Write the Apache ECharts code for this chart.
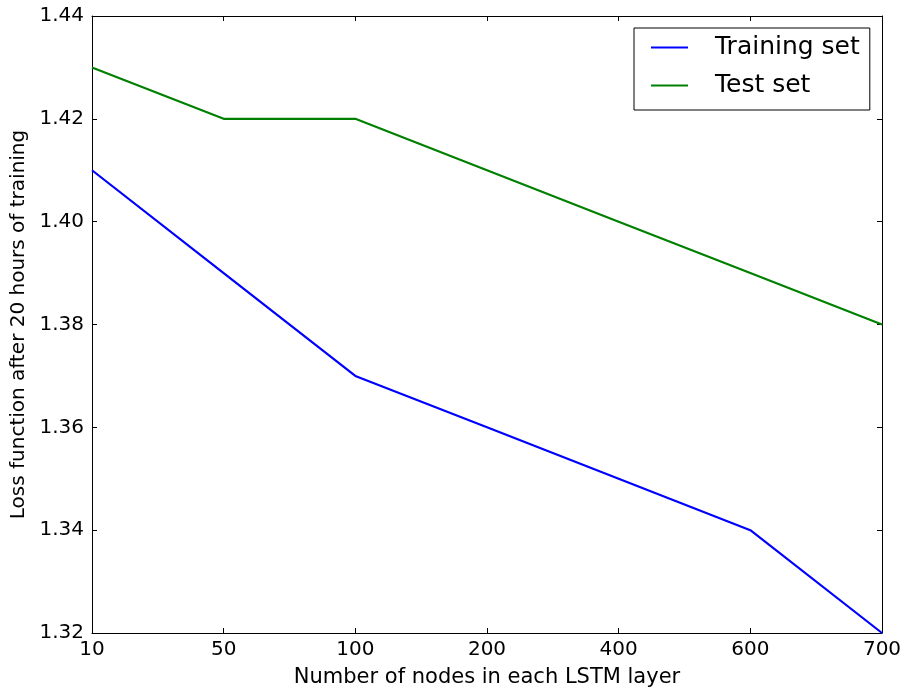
<!DOCTYPE html>
<html>
<head>
<meta charset="utf-8">
<script src="https://cdn.jsdelivr.net/npm/echarts@6/dist/echarts.min.js"></script>
<style>html,body{margin:0;padding:0;background:#fff;}#c{width:906px;height:693px;}</style>
</head>
<body>
<div id="c"></div>
<script>
const categories = ['10', '50', '100', '200', '400', '600', '700'];
const trainingSet = [1.41, 1.39, 1.37, 1.36, 1.35, 1.34, 1.32];
const testSet = [1.43, 1.42, 1.42, 1.41, 1.40, 1.39, 1.38];
const yTicks = { min: 1.32, max: 1.44, interval: 0.02 };

const font = 'DejaVu Sans';
const chart = echarts.init(document.getElementById('c'), null, { renderer: 'canvas' });
const axisLine = { show: true, onZero: false, lineStyle: { color: '#000', width: 1 } };
const tick = { show: true, inside: true, length: 5, lineStyle: { color: '#000', width: 1 } };
chart.setOption({
  animation: false,
  backgroundColor: '#fff',
  grid: { left: 92, right: 24, top: 16, bottom: 60, containLabel: false },
  legend: {
    orient: 'vertical',
    left: 634, top: 28,
    padding: [7, 10, 12, 17],
    itemGap: 13,
    icon: 'rect',
    itemWidth: 37, itemHeight: 2,
    borderColor: '#000', borderWidth: 1, borderRadius: 0,
    backgroundColor: '#fff',
    textStyle: { fontFamily: font, fontSize: 25, color: '#000', padding: [0, 0, 0, 22] },
    data: ['Training set', 'Test set']
  },
  xAxis: [{
    type: 'category', data: categories, boundaryGap: false,
    name: 'Number of nodes in each LSTM layer', nameLocation: 'middle', nameGap: 34,
    nameTextStyle: { fontFamily: font, fontSize: 21, color: '#000' },
    axisLine, axisTick: Object.assign({ alignWithLabel: true }, tick),
    axisLabel: { fontFamily: font, fontSize: 20, color: '#000', margin: 7, interval: 0 },
    splitLine: { show: false }
  }, {
    type: 'category', data: categories, boundaryGap: false, position: 'top',
    axisLine, axisTick: tick, axisLabel: { show: false }, splitLine: { show: false }
  }],
  yAxis: [{
    type: 'value', min: yTicks.min, max: yTicks.max, interval: yTicks.interval,
    name: 'Loss function after 20 hours of training', nameLocation: 'middle', nameGap: 60,
    nameTextStyle: { fontFamily: font, fontSize: 20, color: '#000' },
    axisLine, axisTick: tick,
    axisLabel: { fontFamily: font, fontSize: 20, color: '#000', margin: 8, formatter: v => v.toFixed(2) },
    splitLine: { show: false }
  }, {
    type: 'value', min: yTicks.min, max: yTicks.max, interval: yTicks.interval, position: 'right',
    axisLine, axisTick: tick, axisLabel: { show: false }, splitLine: { show: false }
  }],
  series: [{
    name: 'Training set', type: 'line', data: trainingSet, symbol: 'none',
    lineStyle: { color: '#0000ff', width: 2.2 }, itemStyle: { color: '#0000ff' }
  }, {
    name: 'Test set', type: 'line', data: testSet, symbol: 'none',
    lineStyle: { color: '#008000', width: 2.2 }, itemStyle: { color: '#008000' }
  }]
});
</script>
</body>
</html>
